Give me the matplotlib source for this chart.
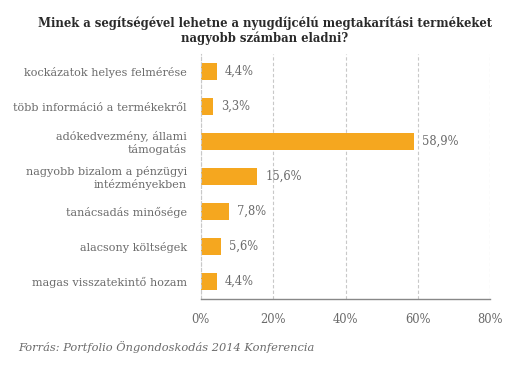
import matplotlib

matplotlib.use("Agg")
import matplotlib.pyplot as plt

# data (top to bottom)
categories = [
    "kockázatok helyes felmérése",
    "több információ a termékekről",
    "adókedvezmény, állami\ntámogatás",
    "nagyobb bizalom a pénzügyi\nintézményekben",
    "tanácsadás minősége",
    "alacsony költségek",
    "magas visszatekintő hozam",
]
values = [4.4, 3.3, 58.9, 15.6, 7.8, 5.6, 4.4]
xticks = [0, 20, 40, 60, 80]

title = "Minek a segítségével lehetne a nyugdíjcélú megtakarítási termékeket\nnagyobb számban eladni?"
source = "Forrás: Portfolio Öngondoskodás 2014 Konferencia"

BAR = "#F5A71F"
GREY = "#6b6b6b"
FONT = "DejaVu Serif"

fig = plt.figure(figsize=(5.3, 3.65), dpi=100)
ax = fig.add_axes([0.379, 0.181, 0.546, 0.671])

pos = list(range(len(categories)))
ax.barh(pos, values, height=0.5, color=BAR)
ax.set_ylim(len(categories) - 0.5, -0.5)
ax.set_xlim(0, 80)

for p, v in zip(pos, values):
    ax.text(v + 2.2, p, f"{v:.1f}%".replace(".", ","), va="center", ha="left",
            fontsize=8.3, color=GREY, family=FONT)

ax.set_yticks(pos)
ax.set_yticklabels(categories, fontsize=8.1, color=GREY, family=FONT,
                   ha="right", linespacing=1.15)
ax.set_xticks(xticks)
ax.set_xticklabels([f"{t}%" for t in xticks], fontsize=8.3, color=GREY,
                   family=FONT)
ax.tick_params(axis="both", length=0, pad=10)
ax.tick_params(axis="y", pad=10)

ax.grid(axis="x", color="#c8c8c8", linestyle=(0, (3, 2)), linewidth=0.8)
ax.set_axisbelow(True)
for s in ["top", "right"]:
    ax.spines[s].set_visible(False)
ax.spines["left"].set_color("#c8c8c8")
ax.spines["left"].set_linestyle((0, (3, 2)))
ax.spines["left"].set_linewidth(0.8)
ax.spines["bottom"].set_color("#888888")
ax.spines["bottom"].set_linewidth(1.0)

fig.text(0.5, 0.955, title, ha="center", va="top", fontsize=8.4,
         fontweight="bold", color="#2a2a2a", family=FONT, linespacing=1.15)
fig.text(0.034, 0.05, source, ha="left", va="center", fontsize=8.2,
         style="italic", color=GREY, family=FONT)

fig.savefig("out.png", dpi=100)
